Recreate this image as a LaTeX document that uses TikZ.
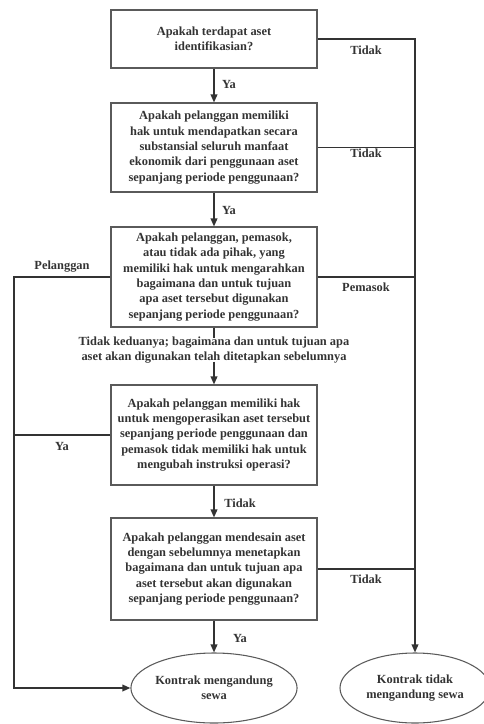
\documentclass[tikz,border=0pt]{standalone}
\usepackage{fontspec}
\setmainfont{Liberation Serif}
\usetikzlibrary{shapes.geometric,arrows.meta}
\definecolor{inkgray}{HTML}{333333}
\definecolor{framegray}{HTML}{5A5A5A}
\newcommand\qfont{\bfseries\fontsize{9.3}{11.5}\selectfont}
\tikzset{
  qbox/.style={draw=framegray,line width=.8pt,minimum width=154.5pt,align=center,inner sep=2pt,font=\qfont,text=inkgray},
  endoval/.style={draw=framegray,line width=.8pt,ellipse,minimum height=52.5pt,align=center,inner sep=0pt,font=\qfont,text=inkgray},
  flow/.style={draw=inkgray,line width=1.1pt,-{Triangle[length=6pt,width=5pt]}},
  link/.style={draw=inkgray,line width=1pt},
  lbl/.style={font=\qfont,text=inkgray,inner sep=0pt,align=center}
}
\begin{document}
\begin{tikzpicture}[x=.75pt,y=-.75pt]
		\useasboundingbox (0,0) rectangle (483,724);
		% questions
		\node[qbox,minimum height=43.5pt](b1) at (214,39) {Apakah terdapat aset\\identifikasian?};
		\node[qbox,minimum height=66.75pt](b2) at (214,147.5) {Apakah pelanggan memiliki\\hak untuk mendapatkan secara\\substansial seluruh manfaat\\ekonomik dari penggunaan aset\\sepanjang periode penggunaan?};
		\node[qbox,minimum height=75pt](b3) at (214,277) {Apakah pelanggan, pemasok,\\atau tidak ada pihak, yang\\memiliki hak untuk mengarahkan\\bagaimana dan untuk tujuan\\apa aset tersebut digunakan\\sepanjang periode penggunaan?};
		\node[qbox,minimum height=75pt](b4) at (214,435) {Apakah pelanggan memiliki hak\\untuk mengoperasikan aset tersebut\\sepanjang periode penggunaan dan\\pemasok tidak memiliki hak untuk\\mengubah instruksi operasi?};
		\node[qbox,minimum height=76.5pt](b5) at (214,569) {Apakah pelanggan mendesain aset\\dengan sebelumnya menetapkan\\bagaimana dan untuk tujuan apa\\aset tersebut akan digunakan\\sepanjang periode penggunaan?};
		% results
		\node[endoval,minimum width=114.75pt](e1) at (214,688) {Kontrak mengandung\\sewa};
		\node[endoval,minimum width=112.5pt](e2) at (415,688) {Kontrak tidak\\mengandung sewa};
		\node[lbl](nb) at (214,350) {Tidak keduanya; bagaimana dan untuk tujuan apa\\aset akan digunakan telah ditetapkan sebelumnya};
		\coordinate (lft) at (14,277);
		% connectors
		\draw[flow](b1)--(b2);
		\draw[flow](b2)--(b3);
		\draw[link](b3.south)--([yshift=-1.5pt]nb.north);
		\draw[flow]([yshift=1.5pt]nb.south)--(b4.north);
		\draw[flow](b4)--(b5);
		\draw[flow](b5)--(e1);
		\draw[flow](b1.east)-|(e2.north);
		\draw[link](b2.east)--(b2.east-|e2.north);
		\draw[link](b3.east)--(b3.east-|e2.north);
		\draw[link](b5.east)--(b5.east-|e2.north);
		\draw[flow](b3.west)--(lft)|-(e1.west);
		\draw[link](b4.west)--(b4.west-|lft);
		% answers
		\node[lbl](ya1) at (229,85) {Ya};
		\node[lbl](ya2) at (229,210) {Ya};
		\node[lbl](td1) at (366,50) {Tidak};
		\node[lbl](td2) at (366,153) {Tidak};
		\node[lbl](pms) at (366,287) {Pemasok};
		\node[lbl](plg) at (62,267) {Pelanggan};
		\node[lbl](ya4) at (62,446) {Ya};
		\node[lbl](td4) at (240,503) {Tidak};
		\node[lbl](td5) at (366,579) {Tidak};
		\node[lbl](ya5) at (240,638) {Ya};
	    \end{tikzpicture}
\end{document}
